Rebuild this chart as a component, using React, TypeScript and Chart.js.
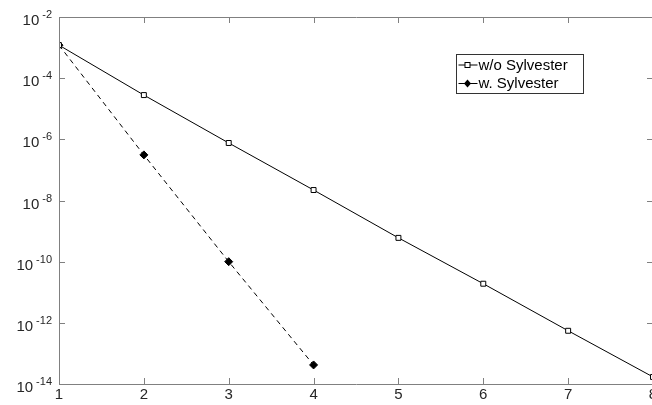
import React, { useEffect, useRef } from "react";
import { Chart, registerables } from "chart.js";

Chart.register(...registerables);

const xValues = [1, 2, 3, 4, 5, 6, 7, 8];
const withoutSylvester = [1.2e-3, 2.8e-5, 7.6e-7, 2.2e-8, 6.0e-10, 1.9e-11, 5.5e-13, 1.7e-14];
const withSylvester = [1.2e-3, 3.1e-7, 1.0e-10, 4.2e-14];
const yTickExponents = [-2, -4, -6, -8, -10, -12, -14];
const xTickValues = [1, 2, 3, 4, 5, 6, 7, 8];
const seriesLabels = ["w/o Sylvester", "w. Sylvester"];

const FONT = "'Liberation Sans', Arial, Helvetica, sans-serif";
const AXIS_COLOR = "#808080";
const TEXT_COLOR = "#262626";

const boxPlugin = {
  id: "matlabBox",
  afterDraw(chart: any) {
    const { ctx, chartArea } = chart;
    const { left, right, top, bottom } = chartArea;
    const xs = chart.scales.x;
    const ys = chart.scales.y;
    ctx.save();
    ctx.strokeStyle = AXIS_COLOR;
    ctx.lineWidth = 1;
    ctx.beginPath();
    ctx.rect(Math.round(left) + 0.5, Math.round(top) + 0.5, Math.round(right - left), Math.round(bottom - top));
    ctx.stroke();
    const tl = 6;
    ctx.beginPath();
    xTickValues.forEach((v) => {
      const px = Math.round(xs.getPixelForValue(v)) + 0.5;
      ctx.moveTo(px, bottom);
      ctx.lineTo(px, bottom - tl);
      ctx.moveTo(px, top);
      ctx.lineTo(px, top + tl);
    });
    yTickExponents.forEach((e) => {
      const py = Math.round(ys.getPixelForValue(Math.pow(10, e))) + 0.5;
      ctx.moveTo(left, py);
      ctx.lineTo(left + tl, py);
      ctx.moveTo(right, py);
      ctx.lineTo(right - tl, py);
    });
    ctx.stroke();

    // y tick labels: 10 with raised exponent
    ctx.fillStyle = TEXT_COLOR;
    ctx.textAlign = "right";
    ctx.textBaseline = "alphabetic";
    yTickExponents.forEach((e) => {
      const py = ys.getPixelForValue(Math.pow(10, e));
      const expRight = left - 7;
      ctx.font = `11px ${FONT}`;
      const expText = String(e);
      const ew = ctx.measureText(expText).width;
      ctx.fillText(expText, expRight, py + 1);
      ctx.font = `15px ${FONT}`;
      ctx.fillText("10", expRight - ew - 3, py + 8);
    });

    // legend
    const lx = 456.5, ly = 54.5, lw = 127, lh = 39;
    ctx.fillStyle = "#ffffff";
    ctx.fillRect(lx, ly, lw, lh);
    ctx.strokeStyle = "#333333";
    ctx.strokeRect(lx, ly, lw, lh);
    chart.data.datasets.forEach((ds: any, i: number) => {
      const cy = ly + 10.5 + i * 18.5;
      ctx.save();
      ctx.strokeStyle = "#000";
      ctx.lineWidth = 1;
      ctx.setLineDash([]);
      ctx.beginPath();
      ctx.moveTo(lx + 2, cy);
      ctx.lineTo(lx + 21, cy);
      ctx.stroke();
      const mx = lx + 11;
      if (ds.pointStyle === "rect") {
        ctx.fillStyle = "#fff";
        ctx.fillRect(mx - 2.5, cy - 2.5, 5, 5);
        ctx.strokeRect(mx - 2.5, cy - 2.5, 5, 5);
      } else {
        ctx.fillStyle = "#000";
        ctx.beginPath();
        ctx.moveTo(mx, cy - 4);
        ctx.lineTo(mx + 3.5, cy);
        ctx.lineTo(mx, cy + 4);
        ctx.lineTo(mx - 3.5, cy);
        ctx.closePath();
        ctx.fill();
      }
      ctx.restore();
      ctx.fillStyle = "#000";
      ctx.font = `15px ${FONT}`;
      ctx.textBaseline = "middle";
      ctx.textAlign = "left";
      ctx.fillText(ds.label, lx + 22, cy + 0.5);
    });
    ctx.restore();
  },
};

export default function App() {
  const ref = useRef<HTMLCanvasElement | null>(null);
  useEffect(() => {
    if (!ref.current) return;
    const chart = new Chart(ref.current, {
      type: "line",
      data: {
        datasets: [
          {
            label: seriesLabels[0],
            data: xValues.map((x, i) => ({ x, y: withoutSylvester[i] })),
            borderColor: "#000",
            borderWidth: 1,
            pointStyle: "rect",
            pointRadius: 3.5,
            pointBackgroundColor: "#fff",
            pointBorderColor: "#000",
            pointBorderWidth: 1,
            tension: 0,
          },
          {
            label: seriesLabels[1],
            data: withSylvester.map((y, i) => ({ x: xValues[i], y })),
            borderColor: "#000",
            borderWidth: 1,
            borderDash: [5, 4],
            pointStyle: "rectRot",
            pointRadius: 4,
            pointBackgroundColor: "#000",
            pointBorderColor: "#000",
            pointBorderWidth: 1,
            tension: 0,
          },
        ],
      },
      options: {
        animation: false,
        responsive: false,
        maintainAspectRatio: false,
        layout: { padding: { top: 17, right: 7, left: 0, bottom: 0 } },
        plugins: { legend: { display: false }, tooltip: { enabled: false } },
        scales: {
          x: {
            type: "linear",
            min: 1,
            max: 8,
            grid: { display: false, drawTicks: false },
            border: { display: false },
            afterBuildTicks: (s: any) => {
              s.ticks = xTickValues.map((v) => ({ value: v }));
            },
            afterFit: (s: any) => {
              s.height = 21;
            },
            ticks: {
              padding: 2,
              maxRotation: 0,
              autoSkip: false,
              color: TEXT_COLOR,
              font: { family: FONT, size: 15 },
              callback: (v: any) => String(v),
            },
          },
          y: {
            type: "logarithmic",
            min: 1e-14,
            max: 1e-2,
            grid: { display: false, drawTicks: false },
            border: { display: false },
            afterBuildTicks: (s: any) => {
              s.ticks = yTickExponents.map((e) => ({ value: Math.pow(10, e) }));
            },
            afterFit: (s: any) => {
              s.width = 59;
            },
            ticks: { display: false },
          },
        },
      },
      plugins: [boxPlugin],
    });
    return () => chart.destroy();
  }, []);
  return (
    <div style={{ position: "fixed", left: 0, top: 0, width: 660, height: 405, background: "#fff" }}>
      <canvas ref={ref} width={660} height={405} style={{ width: 660, height: 405 }} />
    </div>
  );
}
